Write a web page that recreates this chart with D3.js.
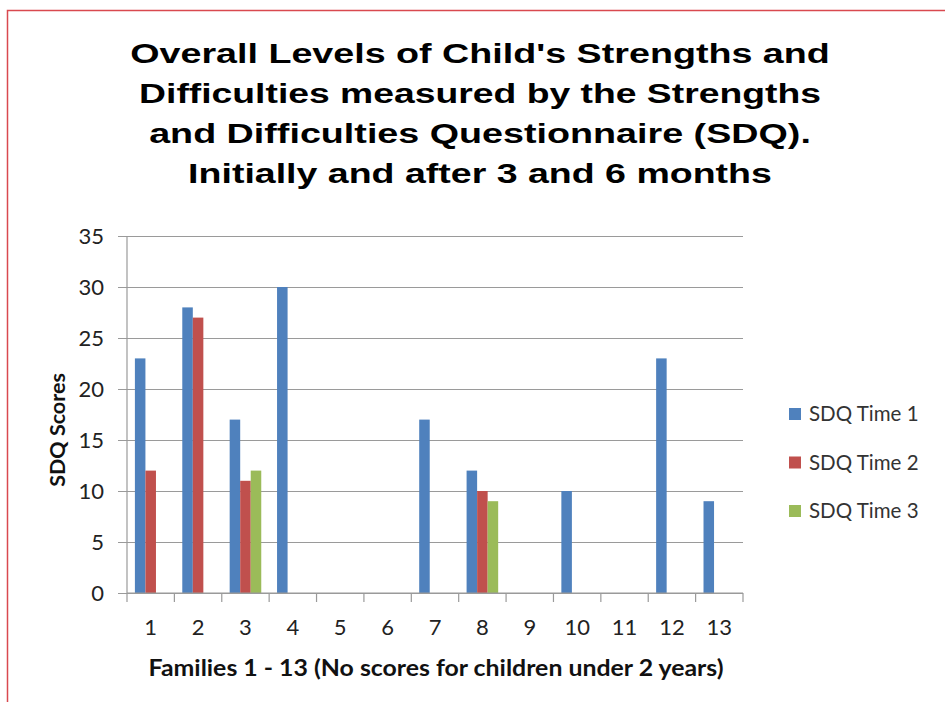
<!DOCTYPE html>
<html>
<head>
<meta charset="utf-8">
<script src="https://cdn.jsdelivr.net/npm/d3@7"></script>
<style>
  html, body { margin: 0; padding: 0; background: #fff; }
  svg { display: block; }
</style>
</head>
<body>
<svg id="chart" width="945" height="702"></svg>
<script>
// Families and SDQ scores at each time point (null = no score)
const families = ["1","2","3","4","5","6","7","8","9","10","11","12","13"];
const seriesNames = ["SDQ Time 1", "SDQ Time 2", "SDQ Time 3"];
const time1 = [23, 28, 17, 30, null, null, 17, 12, null, 10, null, 23, 9];
const time2 = [12, 27, 11, null, null, null, null, 10, null, null, null, null, null];
const time3 = [null, null, 12, null, null, null, null, 9, null, null, null, null, null];
const yTicks = [0, 5, 10, 15, 20, 25, 30, 35];
const titleLines = [
  "Overall Levels of Child's Strengths and",
  "Difficulties measured by the Strengths",
  "and Difficulties Questionnaire (SDQ).",
  "Initially and after 3 and 6 months"
];
// Rendered width of each title line (the title is set wide)
const titleWidths = [700, 682, 662, 584];
const colors = ["#4f81bd", "#c0504d", "#9bbb59"];

const svg = d3.select("#chart");
const bodyFont = "Lato, 'Open Sans', sans-serif";
const axisGrey = "#9a9a9a";

// Frame around the chart
svg.append("rect")
  .attr("x", 7.5).attr("y", 10.5)
  .attr("width", 960).attr("height", 720)
  .attr("fill", "none").attr("stroke", "#d9494f").attr("stroke-width", 1.5);

// Title: each line stretched horizontally to its set width
const titleG = svg.append("g").selectAll("text")
  .data(titleLines)
  .join("text")
  .attr("text-anchor", "middle")
  .attr("font-family", "'Liberation Sans', Arial, sans-serif")
  .attr("font-weight", "bold")
  .attr("font-size", 28.5)
  .attr("fill", "#000")
  .text(d => d);
titleG.each(function(d, i) {
  const w = this.getComputedTextLength();
  const sx = titleWidths[i] / w;
  d3.select(this).attr("transform", `translate(480,${63 + i * 40}) scale(${sx},1)`);
});

const plot = { left: 127, right: 743, top: 236, bottom: 593 };

const x = d3.scaleBand()
  .domain(families)
  .range([plot.left, plot.right])
  .paddingInner(0).paddingOuter(0);

const inner = d3.scaleBand()
  .domain(seriesNames)
  .range([x.bandwidth() / 6, x.bandwidth() * 5 / 6]);

const y = d3.scaleLinear().domain([0, 35]).range([plot.bottom, plot.top]);

// Gridlines with outside tick stubs
const yAxis = d3.axisLeft(y)
  .tickValues(yTicks)
  .tickSize(-(plot.right - plot.left))
  .tickPadding(23)
  .tickSizeOuter(0);

const gy = svg.append("g")
  .attr("transform", `translate(${plot.left},0)`)
  .call(yAxis);
gy.select(".domain").remove();
gy.selectAll(".tick line")
  .attr("x1", -9)
  .attr("stroke", axisGrey).attr("stroke-width", 1.2);
gy.selectAll(".tick text")
  .attr("font-family", bodyFont)
  .attr("font-size", 22)
  .attr("fill", "#222");

// Vertical axis line
svg.append("line")
  .attr("x1", plot.left).attr("x2", plot.left)
  .attr("y1", plot.top).attr("y2", plot.bottom)
  .attr("stroke", axisGrey).attr("stroke-width", 1.2);

// Bars
const series = [time1, time2, time3];
const barData = [];
families.forEach((f, i) => {
  series.forEach((s, j) => {
    if (s[i] != null) barData.push({ family: f, name: seriesNames[j], value: s[i], k: j });
  });
});

svg.append("g").selectAll("rect")
  .data(barData)
  .join("rect")
  .attr("x", d => x(d.family) + inner(d.name))
  .attr("width", inner.bandwidth())
  .attr("y", d => y(d.value))
  .attr("height", d => y(0) - y(d.value))
  .attr("fill", d => colors[d.k]);

// Category axis
const xAxis = d3.axisBottom(x).tickSize(0).tickPadding(26);
const gx = svg.append("g")
  .attr("transform", `translate(0,${plot.bottom})`)
  .call(xAxis);
gx.select(".domain")
  .attr("d", `M${plot.left},0H${plot.right}`)
  .attr("stroke", axisGrey).attr("stroke-width", 1.2);
gx.selectAll(".tick text")
  .attr("font-family", bodyFont)
  .attr("font-size", 22)
  .attr("fill", "#222");

// Category boundary tick marks
const boundaries = families.map(f => x(f)).concat([plot.right]);
gx.append("g").selectAll("line")
  .data(boundaries)
  .join("line")
  .attr("x1", d => d).attr("x2", d => d)
  .attr("y1", 0).attr("y2", 9)
  .attr("stroke", axisGrey).attr("stroke-width", 1.2);

// Axis titles
svg.append("text")
  .attr("x", 436).attr("y", 676)
  .attr("text-anchor", "middle")
  .attr("font-family", bodyFont)
  .attr("font-weight", "bold")
  .attr("font-size", 22)
  .attr("textLength", 575)
  .attr("lengthAdjust", "spacingAndGlyphs")
  .attr("fill", "#111")
  .text("Families 1 - 13 (No scores for children under 2 years)");

svg.append("text")
  .attr("transform", "translate(65,430) rotate(-90)")
  .attr("text-anchor", "middle")
  .attr("font-family", bodyFont)
  .attr("font-weight", "bold")
  .attr("font-size", 21.5)
  .attr("fill", "#111")
  .text("SDQ Scores");

// Legend
const legend = svg.append("g").attr("transform", "translate(789,414)");
const items = legend.selectAll("g")
  .data(seriesNames)
  .join("g")
  .attr("transform", (d, i) => `translate(0,${i * 48.5})`);
items.append("rect")
  .attr("x", 0).attr("y", -6)
  .attr("width", 12).attr("height", 12)
  .attr("fill", (d, i) => colors[i]);
items.append("text")
  .attr("x", 20).attr("y", 0)
  .attr("dy", "0.35em")
  .attr("font-family", bodyFont)
  .attr("font-size", 20.5)
  .attr("fill", "#333")
  .text(d => d);
</script>
</body>
</html>
